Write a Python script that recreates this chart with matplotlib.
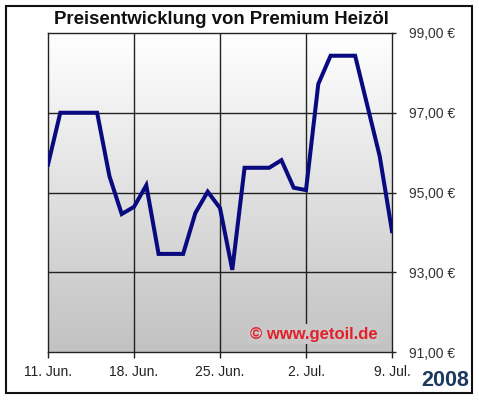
import numpy as np
import matplotlib
matplotlib.use("Agg")
import matplotlib.pyplot as plt
from matplotlib.patches import Rectangle

plt.rcParams['font.family'] = ['Liberation Sans', 'DejaVu Sans']

# Data: day offset from 11 Jun 2008, price in EUR
days = [0, 1, 4, 5, 6, 7, 8, 9, 11, 12, 13, 14, 15, 16, 18, 19, 20, 21, 22, 23, 25, 26, 27, 28]
prices = [95.70, 97.00, 97.00, 95.41, 94.46, 94.64, 95.18, 93.46, 93.46, 94.49, 95.02,
          94.61, 93.06, 95.62, 95.62, 95.81, 95.12, 95.06, 97.72, 98.43, 98.43, 97.17, 95.91, 94.03]
x_ticks = [0, 7, 14, 21, 28]
x_labels = ["11. Jun.", "18. Jun.", "25. Jun.", "2. Jul.", "9. Jul."]
y_ticks = [91, 93, 95, 97, 99]
y_labels = ["91,00 €", "93,00 €", "95,00 €", "97,00 €", "99,00 €"]

W, H = 479, 400
fig = plt.figure(figsize=(W / 100, H / 100), dpi=100)
fig.patch.set_facecolor('white')

ax = fig.add_axes([48 / W, (H - 352) / H, (392 - 48) / W, (352 - 33) / H])
ax.set_xlim(0, 28)
ax.set_ylim(91, 99)

# gradient background
grad = np.linspace(1.0, 0.0, 256).reshape(-1, 1)
ax.imshow(grad, extent=[0, 28, 91, 99], aspect='auto',
          cmap=matplotlib.colors.LinearSegmentedColormap.from_list('g', ['#c2c2c2', '#ffffff']),
          vmin=0, vmax=1, origin='upper', zorder=0)

for v in [7, 14, 21]:
    ax.axvline(v, color='#222222', lw=1.0, zorder=1)
for v in [93, 95, 97]:
    ax.axhline(v, color='#222222', lw=1.0, zorder=1)

ax.plot(days, prices, color='#0a0a80', lw=2.9, solid_joinstyle='miter', zorder=3)

ax.set_xticks(x_ticks)
ax.set_xticklabels(x_labels)
ax.set_yticks(y_ticks)
ax.set_yticklabels(y_labels)
ax.yaxis.tick_right()
ax.tick_params(axis='y', direction='out', length=3, width=1, pad=9, labelsize=10, colors='#222222', labelcolor='#333333')
ax.tick_params(axis='x', direction='out', length=4, width=1, pad=5, labelsize=10, colors='#222222', labelcolor='#222222')
for s in ax.spines.values():
    s.set_color('#222222')
    s.set_linewidth(1.0)

ax.text(26.85, 91.45, "© www.getoil.de", color='#e3202a', fontsize=12, fontweight='bold',
        ha='right', va='center', zorder=4,
        bbox=dict(boxstyle='square,pad=0.15', facecolor='#c8c8c8', edgecolor='none'))

fig.text(221 / W, 1 - 20 / H, "Preisentwicklung von Premium Heizöl", ha='center', va='center',
         fontsize=13.4, fontweight='bold', color='#111111')
fig.text(469 / W, 1 - 381 / H, "2008", ha='right', va='center', fontsize=15.5, fontweight='bold', color='#1b3a5e')

fig.patches.append(Rectangle((6 / W, (H - 393) / H), 466 / W, 387 / H, transform=fig.transFigure,
                             fill=False, edgecolor='#111111', lw=1.5))

fig.savefig('out.png', dpi=100)
